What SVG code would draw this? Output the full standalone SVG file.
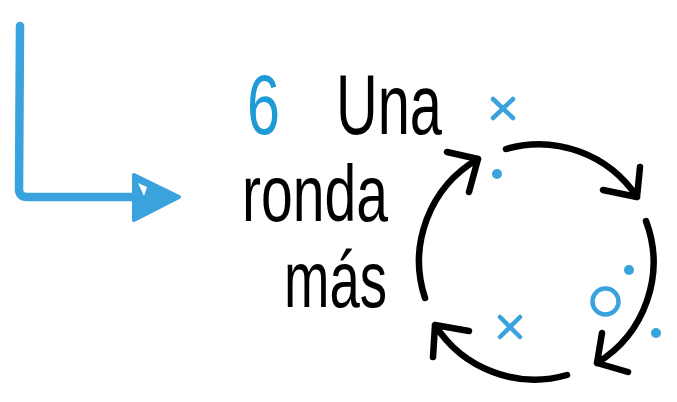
<svg xmlns="http://www.w3.org/2000/svg" width="677" height="402" viewBox="0 0 677 402">
<style>
.blue{fill:none;stroke:#3aa2dc;stroke-linecap:round;stroke-linejoin:round}
.bf{fill:#3aa2dc}
.arc{fill:none;stroke:#000;stroke-width:6.5;stroke-linecap:round;stroke-linejoin:round}
.t{font-family:"Liberation Sans",Arial,sans-serif;fill:#000}
</style>
<rect width="677" height="402" fill="#fff"/>
<g id="entry-arrow">
<path class="blue" stroke-width="8.5" d="M20,26 L19,189 Q19,197 27,197 L150,197"/>
<polygon class="bf" points="134,175 179,197 134,220" stroke="#3aa2dc" stroke-width="4" stroke-linejoin="round"/>
<polygon points="138,183 147,187 144,196" fill="#fff"/>
</g>
<g id="title">
<text x="247" y="134" class="t" font-size="86" fill="#1e9ad6" style="fill:#1e9ad6" textLength="33" lengthAdjust="spacingAndGlyphs">6</text>
<text x="336" y="134" class="t" font-size="85" textLength="106" lengthAdjust="spacingAndGlyphs">Una</text>
<text x="242" y="221" class="t" font-size="80" textLength="146" lengthAdjust="spacingAndGlyphs">ronda</text>
<text x="284" y="307" class="t" font-size="80" textLength="103" lengthAdjust="spacingAndGlyphs">más</text>
</g>
<g id="cycle">
<path class="arc" d="M506,149 A118,118 0 0 1 637,197 M603,190 L637,197 L640,167"/>
<path class="arc" d="M646,221 A118,118 0 0 1 597,363 M602,333 L597,363 L628,372"/>
<path class="arc" d="M567,375 A118,118 0 0 1 435,325 M469,331 L435,325 L433,357"/>
<path class="arc" d="M425,298 A118,118 0 0 1 478,159 M447,152 L478,159 L469,192"/>
</g>
<g id="marks">
<path class="blue" stroke-width="4.5" d="M493,99 L513,118 M513,99 L493,118"/>
<path class="blue" stroke-width="4.5" d="M500,317 L520,337 M520,317 L500,337"/>
<circle class="bf" cx="497" cy="174" r="5"/>
<circle class="bf" cx="629" cy="270" r="5"/>
<circle class="bf" cx="656" cy="333" r="5"/>
<circle class="blue" cx="605.5" cy="301.5" r="13" stroke-width="4.5"/>
</g>
</svg>
